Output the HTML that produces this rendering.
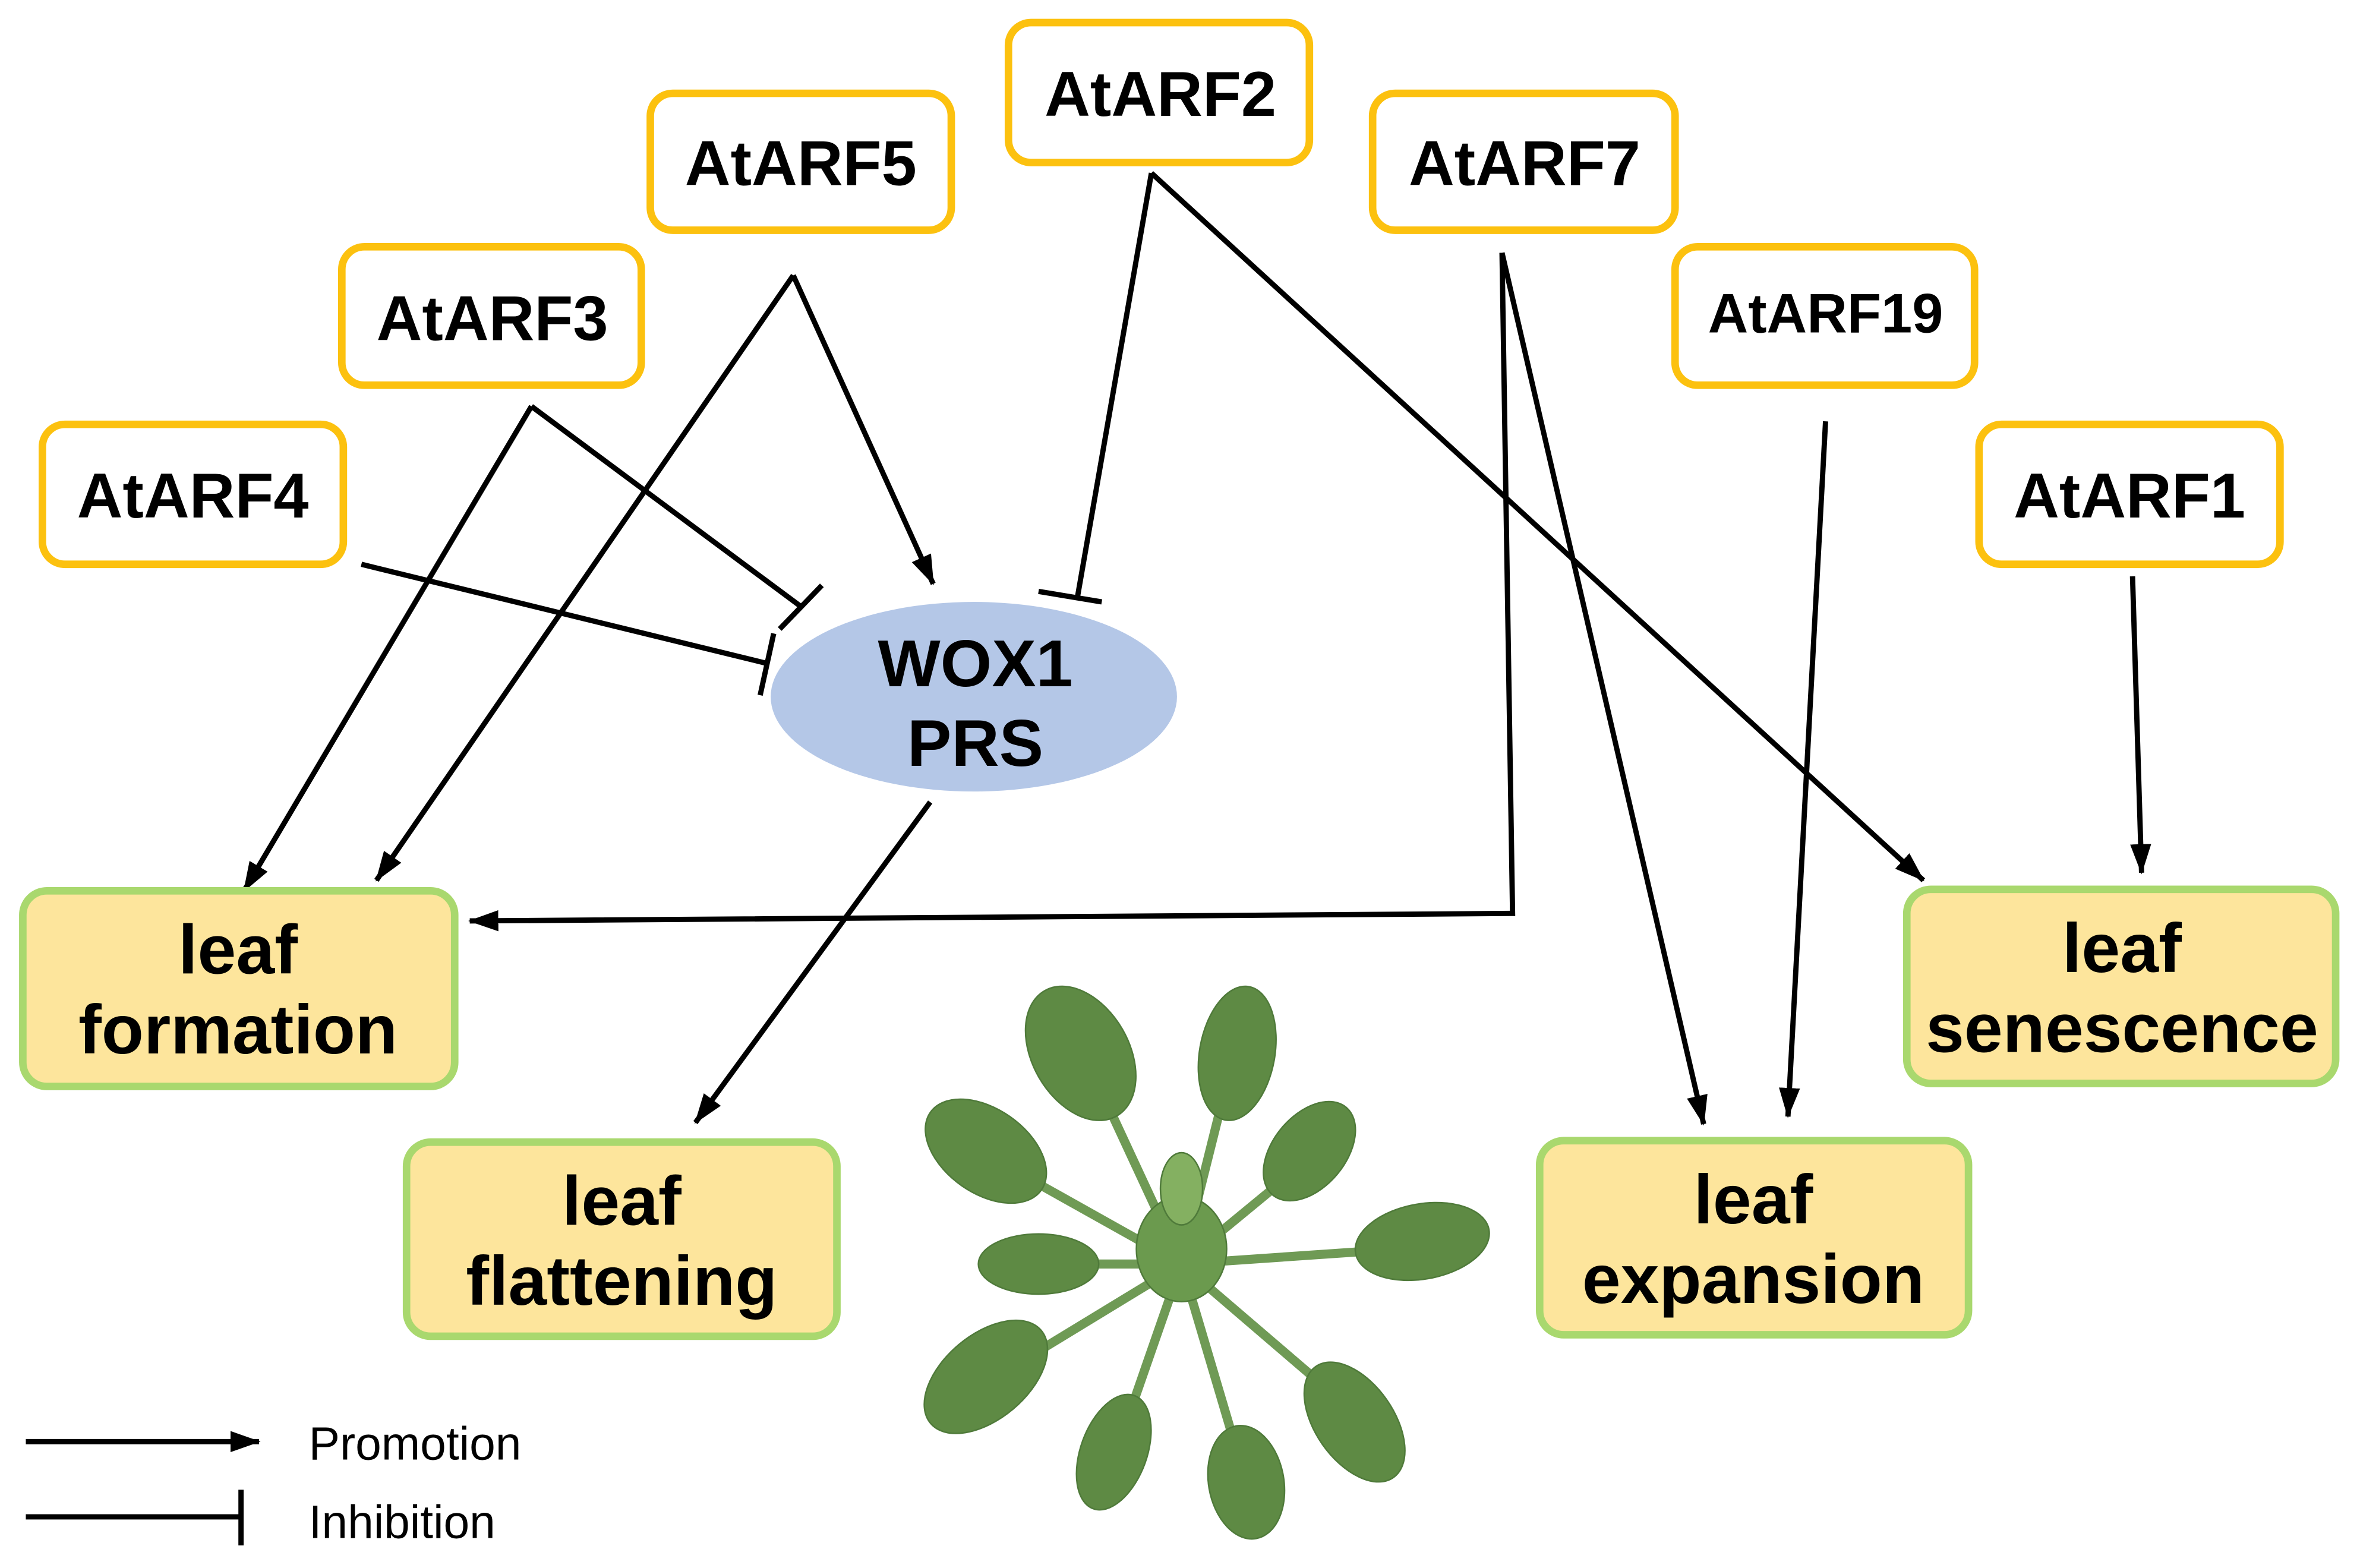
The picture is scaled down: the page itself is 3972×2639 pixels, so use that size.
<!DOCTYPE html>
<html><head><meta charset="utf-8"><style>
html,body{margin:0;padding:0;background:#fff;}
svg{display:block}
text{font-family:"Liberation Sans","DejaVu Sans",sans-serif;font-weight:bold;fill:#000}
</style></head><body>
<svg width="3972" height="2639" viewBox="0 0 1568 1042" xmlns="http://www.w3.org/2000/svg">
<defs>
<marker id="ar2" markerWidth="20" markerHeight="14" refX="19" refY="7" orient="auto" markerUnits="userSpaceOnUse" viewBox="0 0 20 14">
<path d="M0,0 L20,7 L0,14 z" fill="#000"/></marker>
</defs>
<g stroke="#000" stroke-width="3.5" fill="none">
<line x1="765" y1="115" x2="716" y2="396"/>
<line x1="690" y1="393" x2="732" y2="400"/>
<line x1="765" y1="115" x2="1278" y2="585" marker-end="url(#ar2)"/>
<line x1="527" y1="183" x2="620" y2="388" marker-end="url(#ar2)"/>
<line x1="527" y1="183" x2="250" y2="585" marker-end="url(#ar2)"/>
<line x1="353" y1="270" x2="532" y2="403"/>
<line x1="518" y1="418" x2="546" y2="389"/>
<line x1="353" y1="270" x2="162" y2="592" marker-end="url(#ar2)"/>
<line x1="240" y1="375" x2="510" y2="441"/>
<line x1="505" y1="462" x2="514" y2="421"/>
<polyline points="998,168 1005,607 312,612" marker-end="url(#ar2)"/>
<line x1="998" y1="168" x2="1132" y2="747" marker-end="url(#ar2)"/>
<line x1="1213" y1="280" x2="1188" y2="742" marker-end="url(#ar2)"/>
<line x1="1417" y1="383" x2="1423" y2="580" marker-end="url(#ar2)"/>
<line x1="618" y1="533" x2="462" y2="746" marker-end="url(#ar2)"/>
<line x1="17" y1="958" x2="172" y2="958" marker-end="url(#ar2)"/>
<line x1="17" y1="1008" x2="160" y2="1008"/>
<line x1="160" y1="990" x2="160" y2="1027"/>
</g>
<g fill="#fff" stroke="#fcc10f" stroke-width="5">
<rect x="670" y="15" width="200" height="93" rx="15"/>
<rect x="432" y="62" width="200" height="91" rx="15"/>
<rect x="912" y="62" width="201" height="91" rx="15"/>
<rect x="227" y="164" width="199" height="92" rx="15"/>
<rect x="1113" y="164" width="199" height="92" rx="15"/>
<rect x="28" y="282" width="200" height="93" rx="15"/>
<rect x="1315" y="282" width="200" height="93" rx="15"/>
</g>
<g font-size="42" text-anchor="middle">
<text x="771" y="77">AtARF2</text>
<text x="532" y="123">AtARF5</text>
<text x="1013" y="123">AtARF7</text>
<text x="327" y="226">AtARF3</text>
<text x="1213" y="221" font-size="37">AtARF19</text>
<text x="128" y="344">AtARF4</text>
<text x="1415" y="344">AtARF1</text>
</g>
<ellipse cx="647" cy="463" rx="135" ry="63" fill="#b4c7e7"/>
<g font-size="44" text-anchor="middle">
<text x="648" y="456">WOX1</text>
<text x="648" y="509">PRS</text>
</g>
<g fill="#fde59c" stroke="#a9d86e" stroke-width="5">
<rect x="15" y="592" width="287" height="130" rx="16"/>
<rect x="270" y="759" width="286" height="129" rx="16"/>
<rect x="1023" y="758" width="285" height="129" rx="16"/>
<rect x="1267" y="591" width="285" height="129" rx="16"/>
</g>
<g font-size="46" text-anchor="middle">
<text x="158" y="647">leaf</text><text x="158" y="700">formation</text>
<text x="413" y="814">leaf</text><text x="413" y="867">flattening</text>
<text x="1165" y="813">leaf</text><text x="1165" y="866">expansion</text>
<text x="1410" y="646">leaf</text><text x="1410" y="699">senescence</text>
</g>
<g font-size="31">
<text x="205" y="970" style="font-weight:normal">Promotion</text>
<text x="205" y="1022" style="font-weight:normal">Inhibition</text>
</g>
<g stroke="#6f9a55" stroke-width="6" fill="none">
<line x1="785" y1="840" x2="720" y2="700"/>
<line x1="785" y1="840" x2="820" y2="700"/>
<line x1="785" y1="840" x2="870" y2="770"/>
<line x1="785" y1="840" x2="660" y2="770"/>
<line x1="785" y1="840" x2="930" y2="830"/>
<line x1="785" y1="840" x2="670" y2="910"/>
<line x1="785" y1="840" x2="890" y2="930"/>
<line x1="785" y1="840" x2="825" y2="975"/>
<line x1="785" y1="840" x2="745" y2="955"/>
<line x1="785" y1="840" x2="680" y2="840"/>
</g>
<g fill="#5e8a44" stroke="#4f7a3a" stroke-width="1">
<ellipse cx="718" cy="700" rx="32" ry="48" transform="rotate(-30 718 700)"/>
<ellipse cx="822" cy="700" rx="25" ry="45" transform="rotate(10 822 700)"/>
<ellipse cx="870" cy="765" rx="24" ry="38" transform="rotate(40 870 765)"/>
<ellipse cx="655" cy="765" rx="28" ry="45" transform="rotate(-55 655 765)"/>
<ellipse cx="945" cy="825" rx="45" ry="25" transform="rotate(-10 945 825)"/>
<ellipse cx="655" cy="915" rx="28" ry="48" transform="rotate(50 655 915)"/>
<ellipse cx="900" cy="945" rx="26" ry="45" transform="rotate(-35 900 945)"/>
<ellipse cx="828" cy="985" rx="25" ry="38" transform="rotate(-10 828 985)"/>
<ellipse cx="740" cy="965" rx="22" ry="40" transform="rotate(20 740 965)"/>
<ellipse cx="690" cy="840" rx="40" ry="20"/>
<ellipse cx="785" cy="830" rx="30" ry="35" fill="#6b9a4e"/>
<ellipse cx="785" cy="790" rx="14" ry="24" fill="#84b061"/>
</g>
</svg>
</body></html>
